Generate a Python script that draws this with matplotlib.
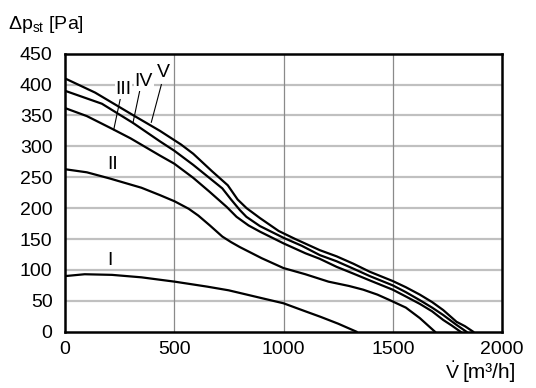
import matplotlib
matplotlib.use("Agg")
import matplotlib.pyplot as plt

plt.rcParams['font.family'] = ['Liberation Sans', 'DejaVu Sans']
plt.rcParams['mathtext.fontset'] = 'custom'
plt.rcParams['mathtext.rm'] = 'Liberation Sans'
plt.rcParams['mathtext.it'] = 'Liberation Sans'

# curve data (V in m3/h, dp in Pa)
x_I = [0, 90, 215, 350, 502, 650, 749, 916, 1000, 1100, 1170, 1250, 1334]
y_I = [90, 93, 92, 88, 81, 73, 67, 53, 46, 33, 24, 13, 0]

x_II = [0, 100, 205, 350, 435, 502, 566, 610, 663, 720, 760, 800, 850, 900, 1000,
        1100, 1206, 1300, 1365, 1430, 1487, 1560, 1624, 1693]
y_II = [263, 258, 248, 233, 221, 211, 199, 188, 172, 154, 145, 137, 128, 119, 103,
        93, 81, 74, 68, 60, 51, 39, 22, 0]

x_III = [0, 100, 218, 300, 435, 500, 587, 660, 740, 785, 840, 892, 1000, 1100, 1166,
         1243, 1320, 1395, 1500, 1560, 1624, 1680, 1731, 1770, 1810]
y_III = [362, 349, 328, 313, 285, 272, 249, 227, 202, 186, 172, 162, 143, 127, 118,
         105, 94, 83, 68, 57, 45, 33, 19, 10, 0]

x_IV = [0, 169, 311, 435, 500, 587, 657, 720, 760, 800, 830, 892, 1000, 1084, 1166,
        1243, 1320, 1395, 1500, 1560, 1624, 1680, 1731, 1792, 1837]
y_IV = [390, 369, 338, 308, 293, 270, 250, 232, 214, 197, 186, 171, 152, 139, 124,
        114, 102, 90, 75, 64, 51, 39, 27, 11, 0]

x_V = [0, 138, 314, 435, 531, 587, 672, 745, 790, 831, 892, 978, 1054, 1166, 1243,
       1320, 1395, 1500, 1560, 1624, 1680, 1731, 1792, 1830, 1868]
y_V = [410, 387, 350, 325, 303, 288, 260, 237, 214, 200, 184, 163, 150, 132, 122,
       110, 97, 82, 72, 60, 48, 35, 16, 9, 0]

x_ticks = [0, 500, 1000, 1500, 2000]
y_ticks = [0, 50, 100, 150, 200, 250, 300, 350, 400, 450]

fig = plt.figure(figsize=(5.36, 3.88), dpi=100)
ax = fig.add_axes([65/536, 1 - 331.7/388, 437/536, 278/388])

ax.set_xlim(0, 2000)
ax.set_ylim(0, 450)
ax.set_xticks(x_ticks)
ax.set_yticks(y_ticks)
ax.tick_params(length=0, labelsize=14)
ax.tick_params(axis='x', pad=7)
ax.tick_params(axis='y', pad=9)

for y in y_ticks[1:-1]:
    ax.axhline(y, color='#c0c0c0', lw=1.6, zorder=1)
for x in x_ticks[1:-1]:
    ax.axvline(x, color='#8a8a8a', lw=0.9, zorder=1)

for s in ax.spines.values():
    s.set_linewidth(1.8)
    s.set_zorder(5)

for xs, ys in [(x_I, y_I), (x_II, y_II), (x_III, y_III), (x_IV, y_IV), (x_V, y_V)]:
    ax.plot(xs, ys, color='black', lw=1.6, zorder=3, solid_joinstyle='round')

lab = dict(fontsize=14, ha='center', va='center', zorder=4)
ax.text(206, 116, 'I', **lab)
ax.text(218, 270, 'II', **lab)
box = dict(facecolor='white', edgecolor='none', pad=0.5)
ax.text(268, 392, 'III', bbox=box, **lab)
ax.text(360, 405, 'IV', bbox=box, **lab)
ax.text(451, 419, 'V', bbox=box, **lab)
ax.plot([253, 223], [377, 327], color='black', lw=0.8, zorder=3)
ax.plot([342, 311], [390, 338], color='black', lw=0.8, zorder=3)
ax.plot([441, 395], [400, 339], color='black', lw=0.8, zorder=3)

fig.text(8/536, 1 - 29/388, r'$\Delta\mathrm{p}_{\mathrm{st}}$ [Pa]', fontsize=14,
         ha='left', va='baseline')
fig.text(452/536, 1 - 378/388, 'V', fontsize=14, ha='center', va='baseline')
fig.text(452.5/536, 1 - 362/388, '.', fontsize=12, ha='center', va='baseline')
fig.text(462/536, 1 - 378/388, '[m\u00b3/h]', fontsize=15, ha='left', va='baseline')

fig.savefig('out.png', dpi=100)
